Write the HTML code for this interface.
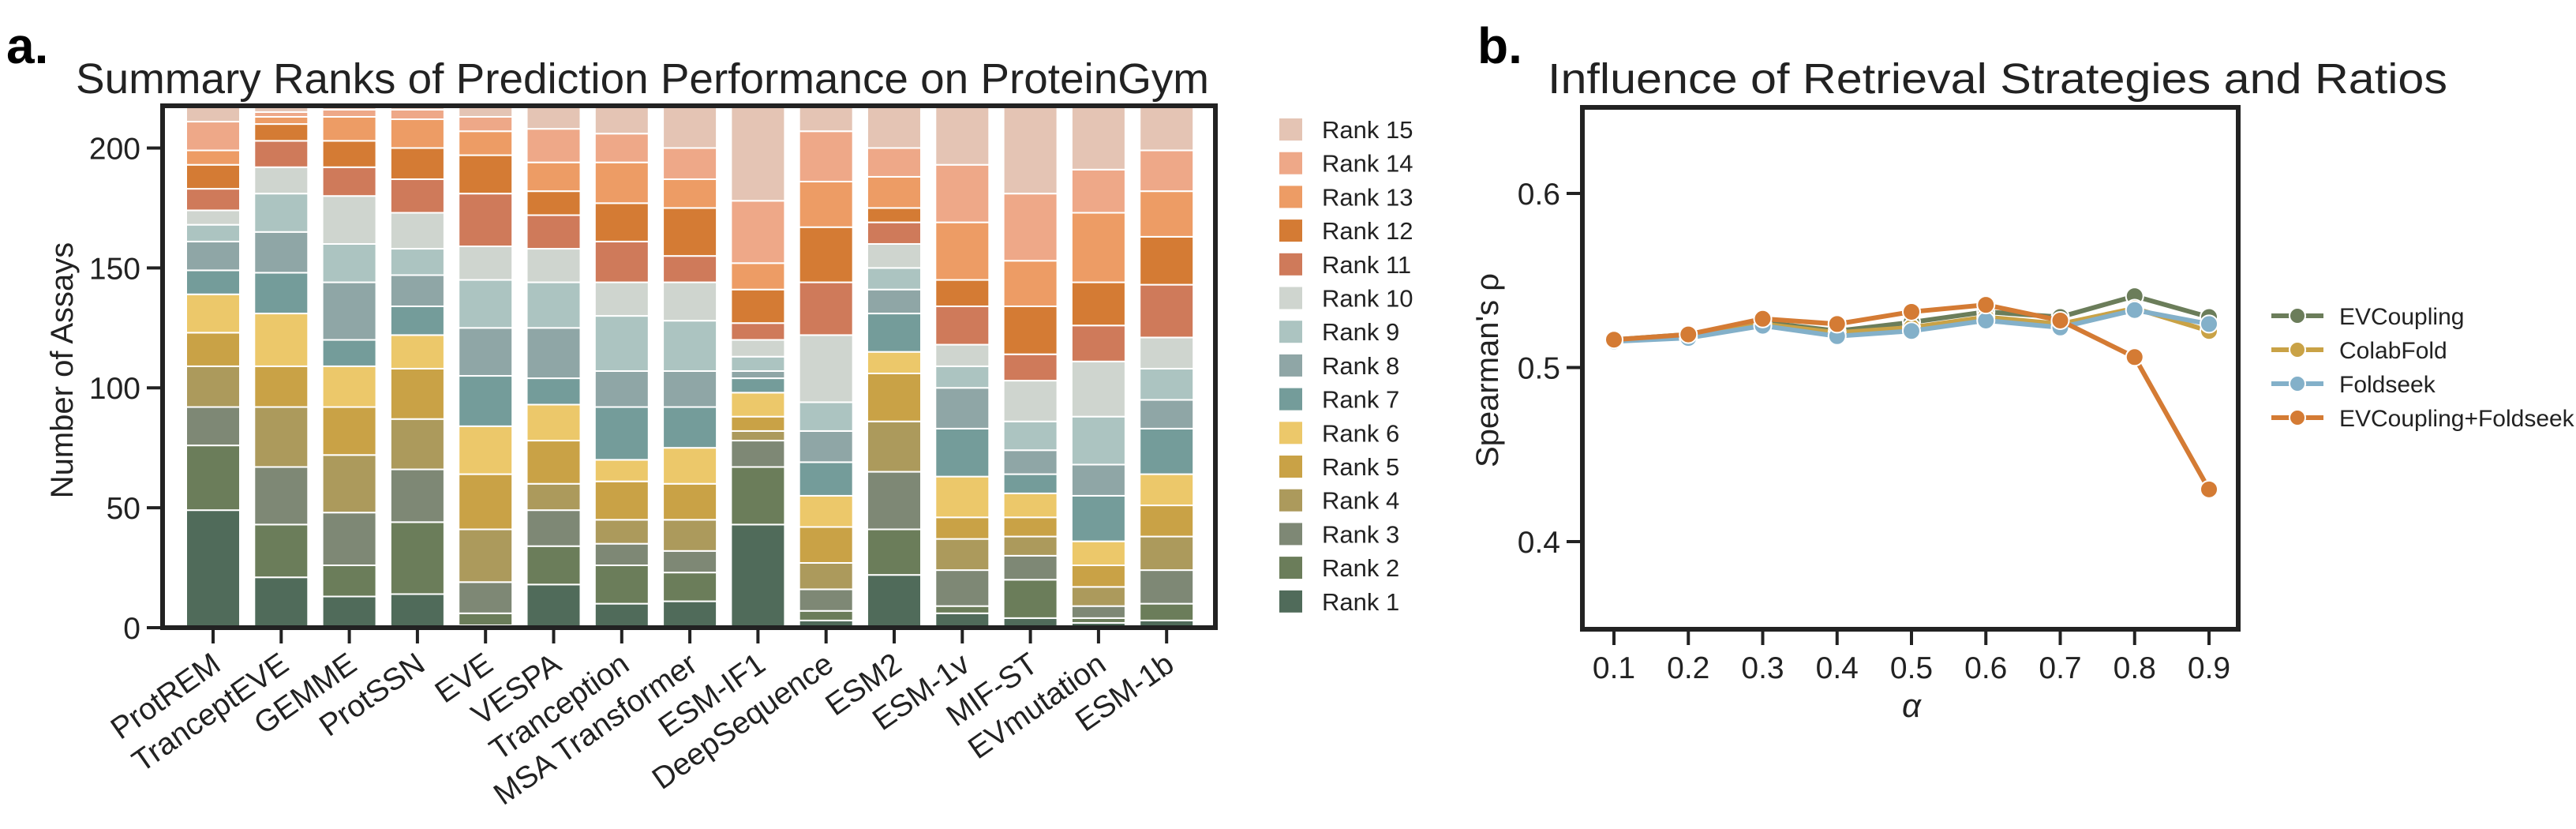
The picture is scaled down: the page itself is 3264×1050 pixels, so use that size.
<!DOCTYPE html>
<html><head><meta charset="utf-8">
<style>
html,body{margin:0;padding:0;background:#fff;}
svg{display:block;font-family:"Liberation Sans",Arial,sans-serif;}
</style></head>
<body>
<svg id="fig" width="3264" height="1050" viewBox="0 0 3264 1050" xmlns="http://www.w3.org/2000/svg">
<text x="8" y="80" font-size="64" font-weight="bold" fill="#000">a.</text>
<text x="96" y="118" font-size="54" fill="#222" textLength="1436" lengthAdjust="spacingAndGlyphs">Summary Ranks of Prediction Performance on ProteinGym</text>
<text x="1872" y="80" font-size="64" font-weight="bold" fill="#000">b.</text>
<text x="1961" y="118" font-size="54" fill="#222" textLength="1140" lengthAdjust="spacingAndGlyphs">Influence of Retrieval Strategies and Ratios</text>
<g id="ga"></g>
<g id="gb"></g>
</svg>
<script>
const models = ["ProtREM","TranceptEVE","GEMME","ProtSSN","EVE","VESPA","Tranception","MSA Transformer","ESM-IF1","DeepSequence","ESM2","ESM-1v","MIF-ST","EVmutation","ESM-1b"];
const rankLabels = ["Rank 1","Rank 2","Rank 3","Rank 4","Rank 5","Rank 6","Rank 7","Rank 8","Rank 9","Rank 10","Rank 11","Rank 12","Rank 13","Rank 14","Rank 15"];
// counts per model, rank1..rank15
const countsProtREM = [49,27,16,17,14,16,10,12,7,6,9,10,6,12,6];
const countsTranceptEVE = [21,22,24,25,17,22,17,17,16,11,11,7,3,2,2];
const countsGEMME = [13,13,22,24,20,17,11,24,16,20,12,11,10,3,1];
const countsProtSSN = [14,30,22,21,21,14,12,13,11,15,14,13,12,4,1];
const countsEVE = [1,5,13,22,23,20,21,20,20,14,22,16,10,6,4];
const countsVESPA = [18,16,15,11,18,15,11,21,19,14,14,10,12,14,9];
const countsTranception = [10,16,9,10,16,9,22,15,23,14,17,16,17,12,11];
const countsMSA = [11,12,9,13,15,15,17,15,21,16,11,20,12,13,17];
const countsESMIF1 = [43,24,11,4,6,10,6,3,6,7,7,14,11,26,39];
const countsDeepSeq = [3,4,9,11,15,13,14,13,12,28,22,23,19,21,10];
const countsESM2 = [22,19,24,21,20,9,16,10,9,10,9,6,13,12,17];
const countsESM1v = [6,3,15,13,9,17,20,17,9,9,16,11,24,24,24];
const countsMIFST = [4,16,10,8,8,10,8,10,12,17,11,20,19,28,36];
const countsEVmut = [2,2,5,8,9,10,19,13,20,23,15,18,29,18,26];
const countsESM1b = [3,7,14,14,13,13,19,12,13,13,22,20,19,17,18];
const yTicksA = [0,50,100,150,200];

const alphas = [0.1,0.2,0.3,0.4,0.5,0.6,0.7,0.8,0.9];
const evcoupling = [0.516,0.519,0.526,0.521,0.526,0.532,0.529,0.541,0.529];
const colabfold = [0.516,0.518,0.525,0.520,0.523,0.529,0.525,0.534,0.521];
const foldseek = [0.515,0.517,0.524,0.518,0.521,0.527,0.523,0.533,0.525];
const evFoldseek = [0.516,0.519,0.528,0.525,0.532,0.536,0.527,0.506,0.430];
const seriesNames = ["EVCoupling","ColabFold","Foldseek","EVCoupling+Foldseek"];
const yTicksB = [0.4,0.5,0.6];

const NS="http://www.w3.org/2000/svg";
function mk(tag,attrs,parent,txt){const e=document.createElementNS(NS,tag);for(const k in attrs)e.setAttribute(k,attrs[k]);if(txt!==undefined)e.textContent=txt;parent.appendChild(e);return e;}

// ---- Chart A ----
const ga=document.getElementById('ga');
const allCounts=[countsProtREM,countsTranceptEVE,countsGEMME,countsProtSSN,countsEVE,countsVESPA,countsTranception,countsMSA,countsESMIF1,countsDeepSeq,countsESM2,countsESM1v,countsMIFST,countsEVmut,countsESM1b];
const rankColors=["#506b5a","#6b7d5a","#7e8875","#ac9a5c","#c9a246","#ecc86a","#749c9a","#8fa6a6","#acc4c1","#cfd5cf","#cf7a5a","#d47b34","#ed9c65","#eea888","#e4c4b4"];
const A={l:206,r:1540,t:134,b:795,ymax:217.6};
const xA=i=>270+i*86.3;
const yA=v=>A.b-(v/A.ymax)*(A.b-A.t);
allCounts.forEach((cs,i)=>{
  let cum=0;
  cs.forEach((c,r)=>{
    const y0=yA(cum), y1=yA(cum+c);
    const rect=mk('rect',{x:xA(i)-34,y:y1,width:68,height:Math.max(0,y0-y1),fill:rankColors[r],stroke:'#fff','stroke-width':2},ga);
    
    
    cum+=c;
  });
});
mk('rect',{x:A.l,y:A.t,width:A.r-A.l,height:A.b-A.t,fill:'none',stroke:'#222','stroke-width':6,},ga);
yTicksA.forEach(v=>{
  const y=yA(v);
  const tk=mk('line',{x1:A.l-20,x2:A.l,y1:y,y2:y,stroke:'#222','stroke-width':4},ga);
  
  
  const tl=mk('text',{x:A.l-28,y:y+14,'font-size':39,'text-anchor':'end',fill:'#222'},ga,String(v));
  
  
});
models.forEach((m,i)=>{
  const x=xA(i);
  const tk=mk('line',{x1:x,x2:x,y1:A.b,y2:A.b+20,stroke:'#222','stroke-width':4},ga);
  
  
  const tl=mk('text',{x:x+12,y:A.b+52,'font-size':39,'text-anchor':'end',fill:'#222',transform:`rotate(-35 ${x+12} ${A.b+52})`},ga,m);
  
  
});
mk('text',{x:92,y:469,'font-size':40,'text-anchor':'middle',fill:'#222',transform:'rotate(-90 92 469)',},ga,'Number of Assays');
// legend A
for(let r=14;r>=0;r--){
  const y=164+(14-r)*42.7;
  const g=mk('g',{},ga);
  
  
  mk('rect',{x:1621,y:y-14,width:29,height:28,fill:rankColors[r]},g);
  mk('text',{x:1675,y:y+11,'font-size':31,fill:'#222'},g,rankLabels[r]);
}

// ---- Chart B ----
const gb=document.getElementById('gb');
const B={l:2005,r:2836,t:136,b:797};
const xB=a=>2045+(a-0.1)/0.8*(2799-2045);
const yB=v=>686-(v-0.4)*2205;
mk('rect',{x:B.l,y:B.t,width:B.r-B.l,height:B.b-B.t,fill:'none',stroke:'#222','stroke-width':6,},gb);
yTicksB.forEach(v=>{
  const y=yB(v);
  const tk=mk('line',{x1:B.l-20,x2:B.l,y1:y,y2:y,stroke:'#222','stroke-width':4},gb);
  
  
  const tl=mk('text',{x:B.l-28,y:y+14,'font-size':39,'text-anchor':'end',fill:'#222'},gb,v.toFixed(1));
  
  
});
alphas.forEach(a=>{
  const x=xB(a);
  const tk=mk('line',{x1:x,x2:x,y1:B.b,y2:B.b+20,stroke:'#222','stroke-width':4},gb);
  
  
  const tl=mk('text',{x:x,y:B.b+62,'font-size':39,'text-anchor':'middle',fill:'#222'},gb,a.toFixed(1));
  
  
});
mk('text',{x:2422,y:908,'font-size':42,'font-style':'italic','text-anchor':'middle',fill:'#222',},gb,'α');
mk('text',{x:1898,y:469,'font-size':40,'text-anchor':'middle',fill:'#222',transform:'rotate(-90 1898 469)',},gb,"Spearman's ρ");
const seriesData=[evcoupling,colabfold,foldseek,evFoldseek];
const seriesColors=["#6b7d5a","#c9a246","#83b0c9","#d47b34"];
seriesData.forEach((d,s)=>{
  const g=mk('g',{},gb);
  
  
  const pts=d.map((v,i)=>xB(alphas[i])+','+yB(v)).join(' ');
  mk('polyline',{points:pts,fill:'none',stroke:seriesColors[s],'stroke-width':6,'stroke-linejoin':'round'},g);
  d.forEach((v,i)=>{
    const c=mk('circle',{cx:xB(alphas[i]),cy:yB(v),r:11,fill:seriesColors[s],stroke:'#fff','stroke-width':2},g);
    
    
  });
});
seriesNames.forEach((n,s)=>{
  const y=400+s*43;
  const g=mk('g',{},gb);
  
  
  mk('line',{x1:2878,x2:2944,y1:y,y2:y,stroke:seriesColors[s],'stroke-width':6},g);
  mk('circle',{cx:2911,cy:y,r:10,fill:seriesColors[s],stroke:'#fff','stroke-width':2},g);
  mk('text',{x:2964,y:y+11,'font-size':30,fill:'#222'},g,n);
});
</script>
</body></html>
